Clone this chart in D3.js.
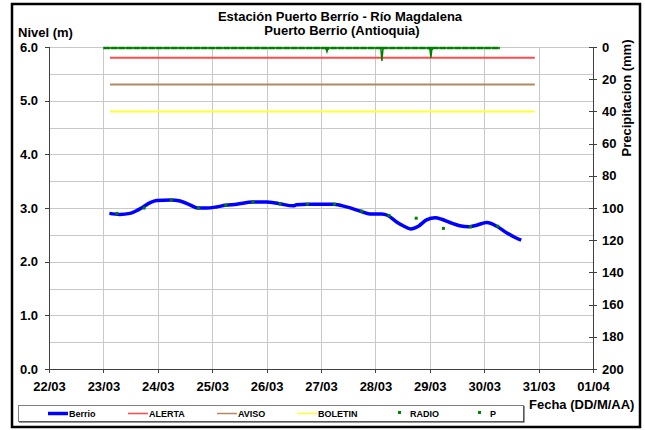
<!DOCTYPE html>
<html lang="es">
<head>
<meta charset="utf-8">
<title>Estación Puerto Berrío</title>
<script src="https://cdn.jsdelivr.net/npm/d3@7"></script>
<style>
  body { margin: 0; background: #fff; }
  svg text { font-family: "Liberation Sans", Arial, sans-serif; font-weight: bold; fill: #000; }
  .grid line { stroke: #c8c8c8; stroke-width: 1.2; shape-rendering: crispEdges; }
  .axis path, .axis line { stroke: #404040; shape-rendering: crispEdges; }
  .axis text { font-size: 13px; }
</style>
</head>
<body>
<script>
// nivel del río (día de marzo fraccional, metros)
var berrioDays = [23.11, 23.30, 23.49, 23.61, 23.73, 23.86, 23.98, 24.24, 24.41, 24.59, 24.73, 24.90,
  25.08, 25.24, 25.45, 25.74, 26.00, 26.23, 26.49, 26.55, 26.74, 26.98, 27.23, 27.47, 27.73, 27.90,
  28.11, 28.23, 28.39, 28.51, 28.65, 28.79, 28.94, 29.10, 29.22, 29.37, 29.55, 29.72, 29.86, 30.05,
  30.23, 30.41, 30.57, 30.68];
var berrioLevel = [2.90, 2.88, 2.90, 2.95, 3.02, 3.10, 3.14, 3.15, 3.13, 3.06, 3.00, 3.00,
  3.02, 3.05, 3.07, 3.11, 3.11, 3.08, 3.04, 3.06, 3.07, 3.07, 3.07, 3.02, 2.94, 2.89,
  2.89, 2.86, 2.74, 2.67, 2.61, 2.66, 2.78, 2.82, 2.79, 2.73, 2.67, 2.65, 2.68, 2.73,
  2.66, 2.54, 2.45, 2.40];

// lecturas de radio
var radioDays = [23.25, 23.75, 24.25, 24.75, 25.25, 25.75, 26.25, 26.75, 27.25, 27.75, 28.25, 28.75, 29.25, 29.75, 30.25];
var radioLevel = [2.90, 3.00, 3.15, 3.00, 3.05, 3.11, 3.08, 3.07, 3.07, 2.94, 2.86, 2.81, 2.62, 2.65, 2.66];

// precipitacion (mm)
var precDays = [23.00, 27.09, 27.11, 27.13, 28.10, 28.12, 28.14, 29.00, 29.02, 29.04, 30.29];
var precMM   = [0, 0, 2.3, 0, 0, 8, 0, 0, 6, 0, 0];

// umbrales
var thresholdNames  = ["ALERTA", "AVISO", "BOLETIN"];
var thresholdValues = [5.8, 5.3, 4.8];
var thresholdColors = ["#ff4b4b", "#b08a62", "#ffff33"];
var thresholdSpan   = [23.12, 30.93];

var dayTicks  = [22, 23, 24, 25, 26, 27, 28, 29, 30, 31, 32];
var dayLabels = ["22/03", "23/03", "24/03", "25/03", "26/03", "27/03", "28/03", "29/03", "30/03", "31/03", "01/04"];
var levelTicks = [0, 1, 2, 3, 4, 5, 6];
var precTicks  = [0, 20, 40, 60, 80, 100, 120, 140, 160, 180, 200];

var legendNames = ["Berrio", "ALERTA", "AVISO", "BOLETIN", "RADIO", "P"];

var W = 645, H = 430;
var plot = {x0: 49, x1: 593, y0: 47, y1: 369};

var svg = d3.select("body").append("svg").attr("width", W).attr("height", H);

var x = d3.scaleLinear().domain([22, 32]).range([plot.x0, plot.x1]);
var y = d3.scaleLinear().domain([0, 6]).range([plot.y1, plot.y0]);
var yP = d3.scaleLinear().domain([0, 200]).range([plot.y0, plot.y1]);

// grid
var grid = svg.append("g").attr("class", "grid");
grid.selectAll(".h").data(d3.range(0.5, 6, 0.5)).enter().append("line")
  .attr("x1", plot.x0).attr("x2", plot.x1)
  .attr("y1", function(d) { return Math.round(y(d)) + 0.5; })
  .attr("y2", function(d) { return Math.round(y(d)) + 0.5; });
grid.selectAll(".v").data(dayTicks.slice(1, -1)).enter().append("line")
  .attr("y1", plot.y0).attr("y2", plot.y1)
  .attr("x1", function(d) { return Math.round(x(d)) + 0.5; })
  .attr("x2", function(d) { return Math.round(x(d)) + 0.5; });
grid.append("line").attr("x1", plot.x0).attr("x2", plot.x1).attr("y1", plot.y0 + 0.5).attr("y2", plot.y0 + 0.5);

// axes
svg.append("g").attr("class", "axis")
  .attr("transform", "translate(0," + plot.y1 + ")")
  .call(d3.axisBottom(x).tickValues(dayTicks).tickSize(4).tickPadding(6)
    .tickFormat(function(d, i) { return dayLabels[i]; }))
  .selectAll("text").attr("dy", "0.95em");

svg.append("g").attr("class", "axis")
  .attr("transform", "translate(" + plot.x0 + ",0)")
  .call(d3.axisLeft(y).tickValues(levelTicks).tickSize(4).tickPadding(7).tickFormat(d3.format(".1f")));

var ax2 = svg.append("g").attr("class", "axis")
  .attr("transform", "translate(" + plot.x1 + ",0)")
  .call(d3.axisRight(yP).tickValues(precTicks).tickSize(4).tickPadding(6));
ax2.selectAll(".tick line").attr("x1", -4);
ax2.selectAll(".tick text").attr("x", 9);

// threshold lines
thresholdValues.forEach(function(v, i) {
  svg.append("line")
    .attr("x1", x(thresholdSpan[0])).attr("x2", x(thresholdSpan[1]))
    .attr("y1", y(v)).attr("y2", y(v))
    .attr("stroke", thresholdColors[i]).attr("stroke-width", 2);
});

// precipitation: thin line for spikes, dotted markers band along the top
var precData = precDays.map(function(d, i) { return [d, precMM[i]]; });
var precLine = d3.line().x(function(d) { return x(d[0]); }).y(function(d) { return yP(d[1]) + 1; });
svg.append("clipPath").attr("id", "topband").append("rect")
  .attr("x", plot.x0).attr("y", plot.y0 - 3).attr("width", plot.x1 - plot.x0).attr("height", 6);
svg.append("path").datum(precData)
  .attr("fill", "none").attr("stroke", "#008000").attr("stroke-width", 1.5)
  .attr("d", precLine);
svg.append("path").datum(precData)
  .attr("clip-path", "url(#topband)")
  .attr("fill", "none").attr("stroke", "#008000").attr("stroke-width", 2.5)
  .attr("stroke-dasharray", "6.5,1")
  .attr("d", precLine);

// Berrio
var berrio = berrioDays.map(function(d, i) { return [d, berrioLevel[i]]; });
svg.append("path").datum(berrio)
  .attr("fill", "none").attr("stroke", "#0000ff").attr("stroke-width", 3.5)
  .attr("stroke-linejoin", "round")
  .attr("d", d3.line().curve(d3.curveMonotoneX).x(function(d) { return x(d[0]); }).y(function(d) { return y(d[1]); }));

// radio
svg.selectAll(".radio").data(radioDays).enter().append("rect")
  .attr("x", function(d) { return x(d) - 1.5; })
  .attr("y", function(d, i) { return y(radioLevel[i]) - 1.5; })
  .attr("width", 3).attr("height", 3).attr("fill", "#008000");

// titles
svg.append("text").attr("x", 340).attr("y", 21).attr("text-anchor", "middle").style("font-size", "13px")
  .text("Estación Puerto Berrío - Río Magdalena");
svg.append("text").attr("x", 342).attr("y", 35).attr("text-anchor", "middle").style("font-size", "13px")
  .text("Puerto Berrio (Antioquia)");
svg.append("text").attr("x", 18).attr("y", 37).style("font-size", "13px").text("Nivel (m)");
svg.append("text").attr("transform", "translate(631,98) rotate(-90)").attr("text-anchor", "middle")
  .style("font-size", "13px").text("Precipitacion (mm)");
svg.append("text").attr("x", 529).attr("y", 409).style("font-size", "13px").text("Fecha (DD/M/AA)");

// legend
var legX = [48, 128, 217, 297, 389, 469];
var legColors = ["#0000ff"].concat(thresholdColors).concat(["#008000", "#008000"]);
var legY = 413.5;
svg.append("rect").attr("x", 18.5).attr("y", 405.5).attr("width", 505).attr("height", 16)
  .attr("fill", "#fff").attr("stroke", "#808080");
svg.append("line").attr("x1", 19).attr("x2", 524).attr("y1", 422).attr("y2", 422).attr("stroke", "#303030");
svg.append("line").attr("x1", 524).attr("x2", 524).attr("y1", 406).attr("y2", 422.5).attr("stroke", "#303030");
legendNames.forEach(function(n, i) {
  if (i < 4) {
    svg.append("line").attr("x1", legX[i]).attr("x2", legX[i] + 20).attr("y1", legY).attr("y2", legY)
      .attr("stroke", legColors[i]).attr("stroke-width", i === 0 ? 3.5 : 1.5);
  } else {
    svg.append("rect").attr("x", legX[i] + 9).attr("y", legY - 2.5).attr("width", 3).attr("height", 3)
      .attr("fill", legColors[i]);
  }
  svg.append("text").attr("x", legX[i] + 21).attr("y", legY + 3.5).style("font-size", "9px").text(n);
});

// outer border
svg.append("rect").attr("x", 12).attr("y", 4).attr("width", 628).attr("height", 423)
  .attr("fill", "none").attr("stroke", "#000").attr("stroke-width", 2.5);
</script>
</body>
</html>
